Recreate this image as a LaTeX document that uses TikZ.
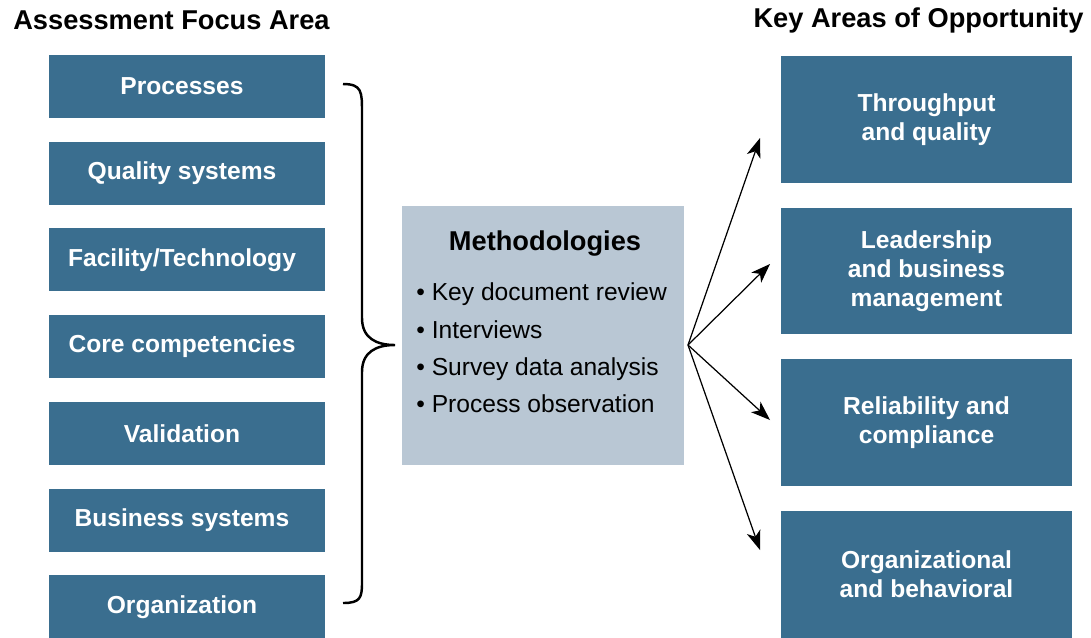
\documentclass[tikz,border=0pt]{standalone}
\usepackage{fontspec}
\setmainfont{Liberation Sans}
\usetikzlibrary{positioning,arrows.meta}
\definecolor{areablue}{RGB}{58,110,143}
\definecolor{methgray}{RGB}{185,199,212}
\tikzset{
  focusbox/.style={fill=areablue,text=white,minimum width=5.52cm,minimum height=1.26cm,
    inner sep=0pt,align=center,font=\fontsize{14}{16.5}\selectfont\bfseries},
  keybox/.style={focusbox,minimum width=5.82cm,minimum height=2.54cm},
  heading/.style={font=\fontsize{15.5}{18}\selectfont\bfseries,inner sep=0pt},
  pointer/.style={-{Stealth[length=11pt,width=8pt,inset=3pt]},line width=0.7pt},
}
\begin{document}
\begin{tikzpicture}[x=0.02cm,y=-0.02cm]
	\useasboundingbox (0,0) rectangle (1091,637);
	% headings
	\node[heading] (lefthead) at (171.5,20) {Assessment Focus Area};
	\node[heading] (righthead) at (918.5,20) {Key Areas of Opportunity};
	% focus areas on the left
	\foreach \name [count=\i from 0] in {Processes,Quality systems,Facility/Technology,Core competencies,Validation,Business systems,Organization}
		\node[focusbox] (focus\i) at (187,86.5+86.7*\i) {\name\hspace*{0.2cm}};
	% opportunities on the right
	\node[keybox] (key0) at (926.5,119.5) {Throughput\\and quality};
	\node[keybox] (key1) at (926.5,271) {Leadership\\and business\\management};
	\node[keybox] (key2) at (926.5,422.5) {Reliability and\\compliance};
	\node[keybox] (key3) at (926.5,574.5) {Organizational\\and behavioral};
	% methodologies
	\node[fill=methgray,minimum width=5.64cm,minimum height=5.18cm,inner sep=0pt] (meth) at (543,335.5) {};
	\node[heading] (methtitle) at (545,244) {Methodologies};
	\node[align=left,anchor=west,inner sep=0pt,font=\fontsize{14}{21.3}\selectfont] (methlist) at (416,348)
		{• Key document review\\• Interviews\\• Survey data analysis\\• Process observation};
	% brace
	\coordinate (bracetop) at (343,84);
	\coordinate (bracetip) at (395,345);
	\coordinate (bracebot) at (343,603);
	\draw[line width=1.4pt] (bracetop) .. controls (362,84) and (362,92) .. (362,112) -- (362,318)
		.. controls (362,338) and (376,345) .. (bracetip)
		.. controls (376,345) and (362,352) .. (362,372) -- (362,583)
		.. controls (362,598) and (360,603) .. (bracebot);
	% arrows
	\coordinate (hub) at (688,345);
	\coordinate (tip0) at (760,138);
	\coordinate (tip1) at (770,264);
	\coordinate (tip2) at (770,420);
	\coordinate (tip3) at (760,550);
	\foreach \i in {0,...,3}
		\draw[pointer] (hub) -- (tip\i);
\end{tikzpicture}
\end{document}
